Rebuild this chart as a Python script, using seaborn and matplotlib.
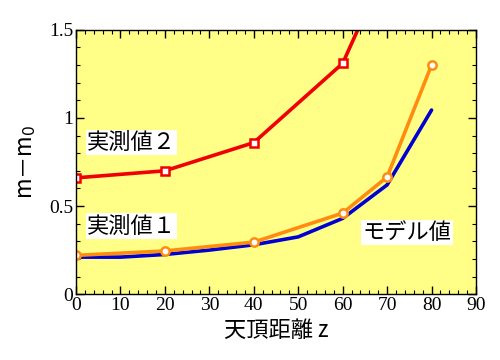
import matplotlib
matplotlib.use("Agg")
import matplotlib.pyplot as plt
from matplotlib.ticker import MultipleLocator
import pandas as pd
import seaborn as sns

# ── data ─────────────────────────────────────────────────────────────────────
model_z = [0, 10, 20, 30, 40, 50, 60, 70, 80]
model_m = [0.21, 0.21, 0.225, 0.25, 0.28, 0.325, 0.43, 0.62, 1.045]

obs1_z = [0, 20, 40, 60, 70, 80]
obs1_m = [0.22, 0.245, 0.295, 0.46, 0.665, 1.30]

obs2_z = [0, 20, 40, 60, 70]
obs2_m = [0.66, 0.70, 0.86, 1.31, 1.87]

BLUE = "#0000d0"
ORANGE = "#ff8c10"
RED = "#f00000"
BG = "#ffff88"

sns.set_style("ticks")
plt.rcParams["font.family"] = ["Noto Sans CJK JP", "DejaVu Sans"]
plt.rcParams["text.color"] = "black"
plt.rcParams["axes.labelcolor"] = "black"
plt.rcParams["xtick.color"] = "black"
plt.rcParams["ytick.color"] = "black"
SERIF = "Liberation Serif"

fig = plt.figure(figsize=(5, 3.6), dpi=100)
ax = fig.add_axes([0.152, 0.183, 0.8, 0.734])
ax.set_facecolor(BG)

model = pd.DataFrame({"z": model_z, "m": model_m})
obs1 = pd.DataFrame({"z": obs1_z, "m": obs1_m})
obs2 = pd.DataFrame({"z": obs2_z, "m": obs2_m})

sns.lineplot(data=model, x="z", y="m", color=BLUE, linewidth=2.6, sort=False, ax=ax)
sns.lineplot(data=obs1, x="z", y="m", color=ORANGE, linewidth=2.6, sort=False, ax=ax,
             marker="o", markersize=6, markerfacecolor="white",
             markeredgecolor=ORANGE, markeredgewidth=1.8)
sns.lineplot(data=obs2, x="z", y="m", color=RED, linewidth=2.6, sort=False, ax=ax,
             marker="s", markersize=6, markerfacecolor="white",
             markeredgecolor=RED, markeredgewidth=1.8)

ax.set_xlim(0, 90)
ax.set_ylim(0, 1.5)
ax.xaxis.set_major_locator(MultipleLocator(10))
ax.xaxis.set_minor_locator(MultipleLocator(2))
ax.yaxis.set_major_locator(MultipleLocator(0.5))
ax.yaxis.set_minor_locator(MultipleLocator(0.1))
ax.tick_params(which="both", direction="in", top=True, right=True)
ax.tick_params(which="major", length=6, width=1, pad=2)
ax.tick_params(which="minor", length=3, width=0.8)
ax.set_xticks([0, 10, 20, 30, 40, 50, 60, 70, 80, 90])
ax.set_xticklabels(["0", "10", "20", "30", "40", "50", "60", "70", "80", "90"],
                   fontfamily=SERIF, fontsize=14)
ax.set_yticks([0, 0.5, 1, 1.5])
ax.set_yticklabels(["0", "0.5", "1", "1.5"], fontfamily=SERIF, fontsize=14)
for s in ax.spines.values():
    s.set_color("black")
    s.set_linewidth(1)

ax.set_xlabel("天頂距離 z", fontsize=16, labelpad=4)
ax.set_ylabel("m－m$_0$", fontsize=16, labelpad=8)

box = dict(facecolor="white", edgecolor="none", pad=1)
ax.text(2.5, 0.86, "実測値２", fontsize=16, va="center", ha="left", bbox=box)
ax.text(2.5, 0.385, "実測値１", fontsize=16, va="center", ha="left", bbox=box)
ax.text(64.5, 0.35, "モデル値", fontsize=16, va="center", ha="left", bbox=box)

fig.savefig("out.png", dpi=100)
